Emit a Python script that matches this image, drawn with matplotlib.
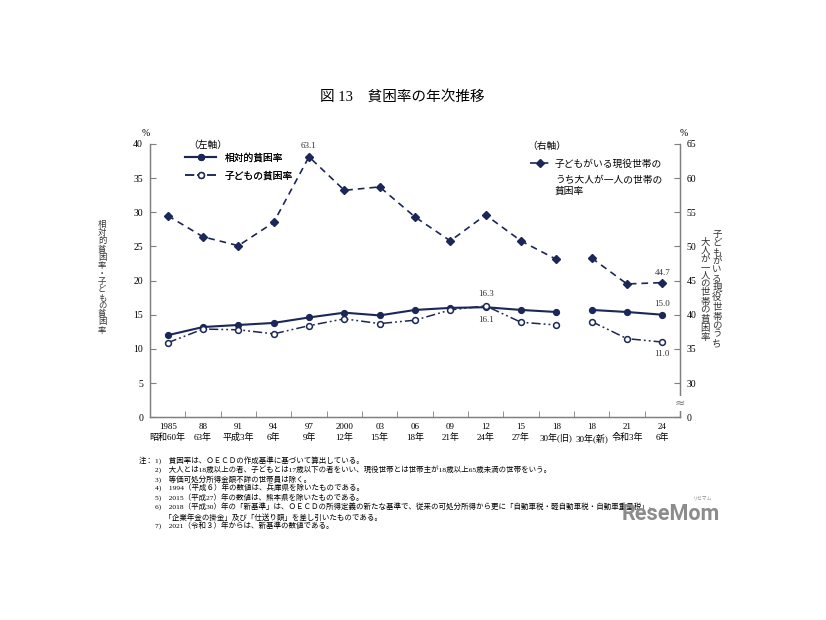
import numpy as np
import matplotlib.pyplot as plt
from matplotlib.transforms import blended_transform_factory

JP = ['Liberation Serif', 'Noto Sans CJK JP']
plt.rcParams['font.family'] = JP

# data (%), 2018 appears twice: old and new standard
years = ["1985", "88", "91", "94", "97", "2000", "03", "06", "09", "12", "15", "18", "18", "21", "24"]
eras = ["昭和60年", "63年", "平成3年", "6年", "9年", "12年", "15年", "18年", "21年", "24年",
        "27年", "30年(旧)", "30年(新)", "令和3年", "6年"]
relative_rate = [12.0, 13.2, 13.5, 13.8, 14.6, 15.3, 14.9, 15.7, 16.0, 16.1, 15.7, 15.4, 15.7, 15.4, 15.0]
child_rate = [10.9, 12.9, 12.8, 12.2, 13.4, 14.4, 13.7, 14.2, 15.7, 16.3, 13.9, 13.5, 14.0, 11.5, 11.0]
single_adult_rate = [54.5, 51.4, 50.1, 53.5, 63.1, 58.2, 58.7, 54.3, 50.8, 54.6, 50.8, 48.1, 48.3, 44.5, 44.7]
old_n = 12  # points up to 2018 old standard

notes = [
    "1)　貧困率は、ＯＥＣＤの作成基準に基づいて算出している。",
    "2)　大人とは18歳以上の者、子どもとは17歳以下の者をいい、現役世帯とは世帯主が18歳以上65歳未満の世帯をいう。",
    "3)　等価可処分所得金額不詳の世帯員は除く。",
    "4)　1994（平成６）年の数値は、兵庫県を除いたものである。",
    "5)　2015（平成27）年の数値は、熊本県を除いたものである。",
    "6)　2018（平成30）年の「新基準」は、ＯＥＣＤの所得定義の新たな基準で、従来の可処分所得から更に「自動車税・軽自動車税・自動車重量税」、",
    "　 「企業年金の掛金」及び「仕送り額」を差し引いたものである。",
    "7)　2021（令和３）年からは、新基準の数値である。",
]

NAVY = '#1b2756'
GRAY = '#7f7f7f'

fig = plt.figure(figsize=(8.26, 6.2), dpi=100)
ax = fig.add_axes([0.1816, 0.327, 0.6416, 0.441])
ax2 = ax.twinx()

x = np.arange(len(years))
segs = [slice(0, old_n), slice(old_n, len(years))]

rel_line = child_line = single_line = None
for s in segs:
    rel_line, = ax.plot(x[s], relative_rate[s], color=NAVY, lw=1.5, marker='o', ms=4.2,
                        mfc=NAVY, mec=NAVY, label="相対的貧困率", zorder=4)
    child_line, = ax.plot(x[s], child_rate[s], color=NAVY, lw=1.1, marker='o', ms=4.2,
                          mfc='white', mec=NAVY, mew=1.1, dashes=[6, 2, 1.2, 2, 1.2, 2],
                          label="子どもの貧困率", zorder=5)
    single_line, = ax2.plot(x[s], single_adult_rate[s], color=NAVY, lw=1.2, marker='D', ms=3.6,
                            mfc=NAVY, mec=NAVY, dashes=[4, 3],
                            label="子どもがいる現役世帯の")

ax.set_xlim(-0.5, len(years) - 0.5)
ax.set_ylim(0, 40)
ax.set_yticks(np.arange(0, 41, 5))
ax2.set_ylim(25, 65)
ax2.set_yticks(np.arange(25, 66, 5))
ax2.set_yticklabels(["0"] + [str(v) for v in range(30, 66, 5)])

ax.set_xticks(x)
ax.set_xticklabels([f"{a}\n{b}" for a, b in zip(years, eras)], fontsize=6.5, linespacing=1.3)
ax.set_xticks(np.arange(0.5, len(years) - 1, 1), minor=True)
ax.tick_params(axis='x', which='major', length=0, pad=4)
ax.tick_params(axis='x', which='minor', direction='in', length=4, color=GRAY)
ax.tick_params(axis='y', direction='in', length=4, color=GRAY, labelsize=7, pad=5)
ax2.tick_params(axis='y', direction='in', length=4, color=GRAY, labelsize=7, pad=5)

for a in (ax, ax2):
    a.spines['top'].set_visible(False)
    for sp in ('left', 'right', 'bottom'):
        a.spines[sp].set_color(GRAY)
        a.spines[sp].set_linewidth(0.9)

# axis break mark on right axis
tr = blended_transform_factory(ax2.transAxes, ax2.transData)
ax2.text(1.0, 27.0, "≈", transform=tr, ha='center', va='center', fontsize=9, color=GRAY,
         family='DejaVu Sans',
         bbox=dict(boxstyle='square,pad=0.05', fc='white', ec='none'), zorder=10)

# data labels
lab = dict(fontsize=6.5, ha='center', textcoords='offset points', color='#333333')
i97 = years.index("97")
ax2.annotate(f"{single_adult_rate[i97]:.1f}", (x[i97], single_adult_rate[i97]), xytext=(0, 5), va='bottom', **lab)
ax2.annotate(f"{single_adult_rate[-1]:.1f}", (x[-1], single_adult_rate[-1]), xytext=(0, 4), va='bottom', **lab)
i12 = years.index("12")
ax.annotate(f"{child_rate[i12]:.1f}", (x[i12], child_rate[i12]), xytext=(0, 6), va='bottom', **lab)
ax.annotate(f"{relative_rate[i12]:.1f}", (x[i12], relative_rate[i12]), xytext=(0, -6), va='top', **lab)
ax.annotate(f"{relative_rate[-1]:.1f}", (x[-1], relative_rate[-1]), xytext=(0, 5), va='bottom', **lab)
ax.annotate(f"{child_rate[-1]:.1f}", (x[-1], child_rate[-1]), xytext=(0, -6), va='top', **lab)

# legends
leg1 = ax.legend(handles=[rel_line, child_line], loc='upper left',
                 bbox_to_anchor=(0.066, 0.966), frameon=False, fontsize=7,
                 handlelength=3.2, labelspacing=0.85, borderpad=0, borderaxespad=0,
                 handletextpad=0.9)
ax.add_artist(leg1)
ax2.legend(handles=[single_line], loc='upper left',
           bbox_to_anchor=(0.717, 0.944), frameon=False, fontsize=7,
           handlelength=2.0, borderpad=0, borderaxespad=0, handletextpad=0.55)
ax.text(0.072, 0.995, "（左軸）", transform=ax.transAxes, ha='left', va='center', fontsize=7)
ax.text(0.712, 0.991, "（右軸）", transform=ax.transAxes, ha='left', va='center', fontsize=7)
ax.text(0.764, 0.868, "うち大人が一人の世帯の", transform=ax.transAxes, ha='left', va='center', fontsize=7)
ax.text(0.764, 0.826, "貧困率", transform=ax.transAxes, ha='left', va='center', fontsize=7)

# percent signs
ax.text(0, 1.02, "%", transform=ax.transAxes, ha='right', va='bottom', fontsize=7)
ax.text(1.0, 1.02, "%", transform=ax.transAxes, ha='left', va='bottom', fontsize=7)

# vertical axis titles
fig.text(0.1235, 0.552, "\n".join("相対的貧困率・子どもの貧困率"), ha='center', va='center',
         fontsize=6.0, linespacing=1.01, color='#333333')
fig.text(0.868, 0.533, "\n".join("子どもがいる現役世帯のうち"), ha='center', va='center',
         fontsize=6.8, linespacing=1.08, color='#333333')
fig.text(0.8535, 0.532, "\n".join("大人が一人の世帯の貧困率"), ha='center', va='center',
         fontsize=6.8, linespacing=1.01, color='#333333')

# title
fig.text(0.487, 0.843, "図 13　貧困率の年次推移", ha='center', va='center', fontsize=10.5)

# notes
fig.text(0.1675, 0.258, "注：", ha='left', va='center', fontsize=5.4)
for k, line in enumerate(notes):
    fig.text(0.188, 0.258 - k * 0.0152, line, ha='left', va='center', fontsize=5.4)

# watermark
fig.text(0.753, 0.171, "ReseMom", ha='left', va='center', fontsize=15.5, fontweight='bold',
         family='Roboto', color='#8c8c8c')
fig.text(0.851, 0.197, "リセマム", ha='center', va='center', fontsize=3.5, color='#8c8c8c',
         family='Noto Sans CJK JP')

fig.savefig("out.png", dpi=100)
